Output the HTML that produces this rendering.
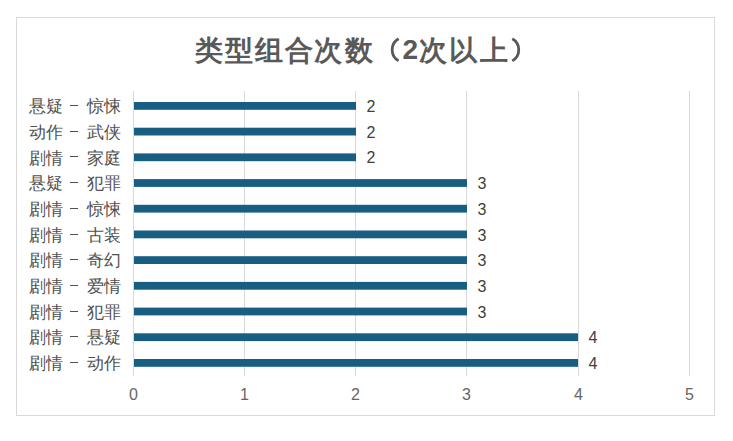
<!DOCTYPE html>
<html><head><meta charset="utf-8"><style>
html,body{margin:0;padding:0;background:#fff;}
body{width:733px;height:441px;position:relative;overflow:hidden;font-family:"Liberation Sans",sans-serif;}
.frame{position:absolute;left:16px;top:17px;width:697px;height:397px;border:1px solid #d9d9d9;}
.t{position:absolute;font-weight:bold;color:#595959;white-space:nowrap;line-height:1;}
.cl,.cr{position:absolute;font-size:16.5px;line-height:20px;color:#505050;white-space:nowrap;}
.cl{left:28.5px;}
.cr{left:87.2px;}
.dash{position:absolute;left:70px;width:8px;height:1px;background:#505050;}
.dl{position:absolute;font-size:16px;line-height:20px;color:#404040;}
.xl{position:absolute;top:385.3px;width:40px;text-align:center;font-size:16px;line-height:20px;color:#666;}
svg{position:absolute;left:0;top:0;}
</style></head><body>
<div class="frame"></div>
<svg width="733" height="441" viewBox="0 0 733 441"><rect x="133" y="91" width="1" height="285" fill="#d9d9d9"/><rect x="244" y="91" width="1" height="285" fill="#d9d9d9"/><rect x="355" y="91" width="1" height="285" fill="#d9d9d9"/><rect x="466" y="91" width="1" height="285" fill="#d9d9d9"/><rect x="578" y="91" width="1" height="285" fill="#d9d9d9"/><rect x="689" y="91" width="1" height="285" fill="#d9d9d9"/><path d="M398.6 38.7 A12.8 12.8 0 0 0 398.6 60.9" fill="none" stroke="#595959" stroke-width="2.8"/><path d="M512.3 38.7 A12.8 12.8 0 0 1 512.3 60.9" fill="none" stroke="#595959" stroke-width="2.8"/><rect x="134" y="102.00" width="222" height="7.8" fill="#185e82"/><rect x="134" y="127.70" width="222" height="7.8" fill="#185e82"/><rect x="134" y="153.40" width="222" height="7.8" fill="#185e82"/><rect x="134" y="179.10" width="333" height="7.8" fill="#185e82"/><rect x="134" y="204.80" width="333" height="7.8" fill="#185e82"/><rect x="134" y="230.50" width="333" height="7.8" fill="#185e82"/><rect x="134" y="256.20" width="333" height="7.8" fill="#185e82"/><rect x="134" y="281.90" width="333" height="7.8" fill="#185e82"/><rect x="134" y="307.60" width="333" height="7.8" fill="#185e82"/><rect x="134" y="333.30" width="444" height="7.8" fill="#185e82"/><rect x="134" y="359.00" width="444" height="7.8" fill="#185e82"/></svg>
<span class="t" style="left:195.0px;top:37px;font-size:27.5px;">类</span><span class="t" style="left:224.9px;top:37px;font-size:27.5px;">型</span><span class="t" style="left:254.8px;top:37px;font-size:27.5px;">组</span><span class="t" style="left:284.9px;top:37px;font-size:27.5px;">合</span><span class="t" style="left:314px;top:37px;font-size:27.5px;">次</span><span class="t" style="left:344.6px;top:37px;font-size:27.5px;">数</span><span class="t" style="left:402.5px;top:36px;font-size:28px;">2</span><span class="t" style="left:418.5px;top:37px;font-size:27.5px;">次</span><span class="t" style="left:449px;top:37px;font-size:27.5px;">以</span><span class="t" style="left:479.5px;top:37px;font-size:27.5px;">上</span><div class="cl" style="top:96.10px">悬疑</div><div class="dash" style="top:105px"></div><div class="cr" style="top:96.10px">惊悚</div><div class="dl" style="top:97.00px;left:366.50px">2</div><div class="cl" style="top:121.80px">动作</div><div class="dash" style="top:131px"></div><div class="cr" style="top:121.80px">武侠</div><div class="dl" style="top:122.70px;left:366.50px">2</div><div class="cl" style="top:147.50px">剧情</div><div class="dash" style="top:156px"></div><div class="cr" style="top:147.50px">家庭</div><div class="dl" style="top:148.40px;left:366.50px">2</div><div class="cl" style="top:173.20px">悬疑</div><div class="dash" style="top:182px"></div><div class="cr" style="top:173.20px">犯罪</div><div class="dl" style="top:174.10px;left:477.50px">3</div><div class="cl" style="top:198.90px">剧情</div><div class="dash" style="top:208px"></div><div class="cr" style="top:198.90px">惊悚</div><div class="dl" style="top:199.80px;left:477.50px">3</div><div class="cl" style="top:224.60px">剧情</div><div class="dash" style="top:234px"></div><div class="cr" style="top:224.60px">古装</div><div class="dl" style="top:225.50px;left:477.50px">3</div><div class="cl" style="top:250.30px">剧情</div><div class="dash" style="top:259px"></div><div class="cr" style="top:250.30px">奇幻</div><div class="dl" style="top:251.20px;left:477.50px">3</div><div class="cl" style="top:276.00px">剧情</div><div class="dash" style="top:285px"></div><div class="cr" style="top:276.00px">爱情</div><div class="dl" style="top:276.90px;left:477.50px">3</div><div class="cl" style="top:301.70px">剧情</div><div class="dash" style="top:311px"></div><div class="cr" style="top:301.70px">犯罪</div><div class="dl" style="top:302.60px;left:477.50px">3</div><div class="cl" style="top:327.40px">剧情</div><div class="dash" style="top:336px"></div><div class="cr" style="top:327.40px">悬疑</div><div class="dl" style="top:328.30px;left:588.50px">4</div><div class="cl" style="top:353.10px">剧情</div><div class="dash" style="top:362px"></div><div class="cr" style="top:353.10px">动作</div><div class="dl" style="top:354.00px;left:588.50px">4</div><div class="xl" style="left:113.50px">0</div><div class="xl" style="left:224.50px">1</div><div class="xl" style="left:335.50px">2</div><div class="xl" style="left:446.50px">3</div><div class="xl" style="left:558.50px">4</div><div class="xl" style="left:669.50px">5</div>
</body></html>
